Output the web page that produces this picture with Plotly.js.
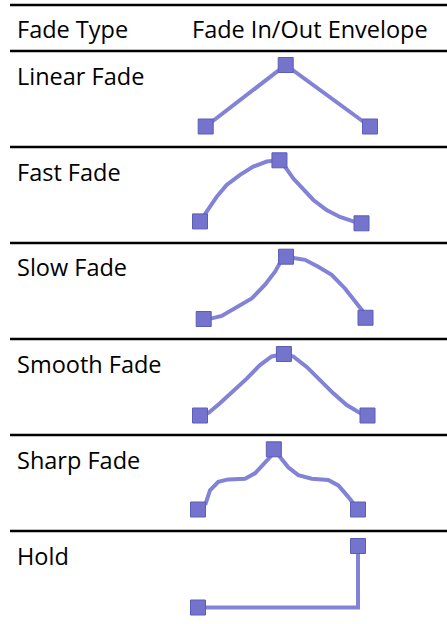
<!DOCTYPE html>
<html>
<head>
<meta charset="utf-8">
<script src="https://cdn.plot.ly/plotly-3.0.1.min.js"></script>
<style>html,body{margin:0;padding:0;background:#fff;}#chart{width:447px;height:624px;}</style>
</head>
<body>
<div id="chart"></div>
<script>
// ---- data ----
const headerLabels = ['Fade Type', 'Fade In/Out Envelope'];
const fadeTypes = ['Linear Fade', 'Fast Fade', 'Slow Fade', 'Smooth Fade', 'Sharp Fade', 'Hold'];

// normalized time (0..1) and gain (0..1) read from the envelopes
const linearTime = [0, 0.487, 1];
const linearGain = [0, 1, 0];

const fastTime = [0, 0.062, 0.103, 0.165, 0.248, 0.330, 0.413, 0.492, 0.526, 0.578, 0.640, 0.702, 0.784, 0.867, 0.949, 1];
const fastGain = [0.03, 0.26, 0.42, 0.61, 0.77, 0.90, 0.98, 1, 0.90, 0.71, 0.53, 0.37, 0.21, 0.10, 0.03, 0];

const slowTime = [0, 0.049, 0.111, 0.193, 0.297, 0.379, 0.441, 0.482, 0.509, 0.554, 0.626, 0.708, 0.791, 0.873, 0.935, 0.985, 1];
const slowGain = [0, 0.01, 0.05, 0.17, 0.33, 0.55, 0.76, 0.95, 1, 0.98, 0.95, 0.84, 0.71, 0.49, 0.28, 0.12, 0.02];

const smoothTime = [0, 0.05, 0.119, 0.199, 0.279, 0.358, 0.428, 0.501, 0.557, 0.637, 0.716, 0.796, 0.876, 0.955, 1];
const smoothGain = [0, 0.04, 0.20, 0.39, 0.60, 0.82, 0.96, 1, 0.96, 0.79, 0.58, 0.36, 0.17, 0.04, 0];

const sharpTime = [0, 0.048, 0.075, 0.127, 0.189, 0.294, 0.356, 0.408, 0.461, 0.474, 0.512, 0.564, 0.627, 0.711, 0.814, 0.877, 0.939, 0.981, 1];
const sharpGain = [0, 0.10, 0.32, 0.46, 0.50, 0.51, 0.60, 0.76, 0.90, 1, 0.87, 0.70, 0.57, 0.51, 0.49, 0.40, 0.21, 0.08, 0];

const holdTime = [0, 1, 1];
const holdGain = [0, 0, 1];

// indices of the envelope control points (drawn as squares)
const linearKeys = [0, 1, 2];
const fastKeys = [0, 7, 15];
const slowKeys = [0, 8, 16];
const smoothKeys = [0, 7, 14];
const sharpKeys = [0, 9, 18];
const holdKeys = [0, 2];

// ---- layout (pixel geometry of the table) ----
const W = 447, H = 624;
const rowLinesPx = [5, 51, 147, 243, 339, 435, 531];
// per-row envelope box: [left, right, top(gain=1), bottom(gain=0)] in px
const envBoxes = [
  [205.7, 370, 65, 126.5],
  [200, 361.5, 160.3, 223.3],
  [203.7, 365.5, 256.7, 319],
  [200, 367.5, 354, 415.5],
  [198, 358, 449.3, 509.5],
  [198, 358, 546, 607.5]
];
const PAD = 0.1; // axis padding so lines at the edges are not clipped

const series = [
  [linearTime, linearGain, linearKeys],
  [fastTime, fastGain, fastKeys],
  [slowTime, slowGain, slowKeys],
  [smoothTime, smoothGain, smoothKeys],
  [sharpTime, sharpGain, sharpKeys],
  [holdTime, holdGain, holdKeys]
];

const lineColor = '#8282d6';
const markColor = '#7474cc';
const markEdge = '#5c5cba';
const fontFam = '"Open Sans", "Noto Sans", sans-serif';
const fontSize = 23.5;

const traces = [];
const layout = {
  width: W, height: H,
  margin: {l: 0, r: 0, t: 0, b: 0, pad: 0},
  paper_bgcolor: '#ffffff', plot_bgcolor: 'rgba(0,0,0,0)',
  showlegend: false,
  shapes: [], annotations: []
};

series.forEach((s, i) => {
  const [t, g, keys] = s;
  const n = i === 0 ? '' : String(i + 1);
  const [L, R, T, B] = envBoxes[i];
  const dx = (R - L) * PAD, dy = (B - T) * PAD;
  traces.push({
    x: t, y: g, xaxis: 'x' + n, yaxis: 'y' + n,
    mode: 'lines', type: 'scatter', cliponaxis: false,
    line: {color: lineColor, width: 4}, hoverinfo: 'skip'
  });
  traces.push({
    x: keys.map(k => t[k]), y: keys.map(k => g[k]), xaxis: 'x' + n, yaxis: 'y' + n,
    mode: 'markers', type: 'scatter', cliponaxis: false,
    marker: {symbol: 'square', size: 15, color: markColor, line: {color: markEdge, width: 1}},
    hoverinfo: 'skip'
  });
  const axBase = {showgrid: false, zeroline: false, showticklabels: false, ticks: '', showline: false, fixedrange: true};
  layout['xaxis' + n] = Object.assign({}, axBase, {range: [-PAD, 1 + PAD],
    domain: [(L - dx) / W, (R + dx) / W], anchor: 'y' + n});
  layout['yaxis' + n] = Object.assign({}, axBase, {range: [-PAD, 1 + PAD],
    domain: [1 - (B + dy) / H, 1 - (T - dy) / H], anchor: 'x' + n});
});

rowLinesPx.forEach(py => {
  layout.shapes.push({type: 'line', xref: 'paper', yref: 'paper', x0: 10 / W, x1: 1, y0: 1 - py / H, y1: 1 - py / H,
    line: {color: '#000000', width: 2.5}});
});

const headerX = [15, 190];
headerLabels.forEach((lab, j) => {
  layout.annotations.push({text: lab, xref: 'paper', yref: 'paper', x: headerX[j] / W, y: 1 - 29.5 / H,
    xanchor: 'left', yanchor: 'middle', showarrow: false, font: {family: fontFam, size: fontSize, color: '#000'}});
});
fadeTypes.forEach((lab, i) => {
  const py = rowLinesPx[i + 1] + 24.5;
  layout.annotations.push({text: lab, xref: 'paper', yref: 'paper', x: 15 / W, y: 1 - py / H,
    xanchor: 'left', yanchor: 'middle', showarrow: false, font: {family: fontFam, size: fontSize, color: '#000'}});
});

Plotly.newPlot('chart', traces, layout, {displayModeBar: false, staticPlot: true});
</script>
</body>
</html>
